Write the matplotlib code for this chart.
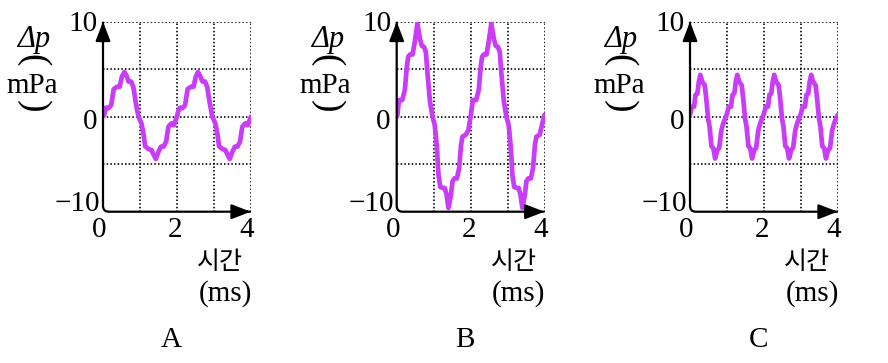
import numpy as np
import matplotlib.pyplot as plt
from matplotlib.path import Path
from matplotlib.patches import PathPatch

# ---------------- data ----------------
# A: 500 Hz tone with ripple, amplitude ~5 mPa
t_a = [0.00, 0.04, 0.08, 0.15, 0.22, 0.29, 0.38, 0.45, 0.51, 0.58, 0.65, 0.69, 0.76, 0.82, 0.89,
       0.96, 1.04, 1.10, 1.14, 1.23, 1.31, 1.37, 1.43, 1.50, 1.57, 1.64, 1.71, 1.77, 1.85, 1.92,
       2.00, 2.04, 2.08, 2.15, 2.22, 2.29, 2.38, 2.45, 2.51, 2.57, 2.64, 2.69, 2.76, 2.82, 2.89,
       2.96, 3.04, 3.10, 3.14, 3.23, 3.31, 3.37, 3.43, 3.50, 3.57, 3.64, 3.71, 3.77, 3.85, 3.92, 4.00]
p_a = [0.0, 0.3, 0.95, 0.9, 1.2, 2.9, 3.15, 3.15, 4.2, 4.7, 4.2, 3.7, 3.7, 3.15, 1.4,
       0.0, -0.7, -1.9, -3.1, -3.4, -3.5, -4.0, -4.45, -3.7, -3.15, -3.15, -2.6, -1.05, -0.7, -0.9,
       0.0, 0.6, 0.95, 0.9, 1.2, 2.9, 3.15, 3.15, 4.2, 4.7, 4.2, 3.7, 3.7, 3.15, 1.4,
       0.0, -0.7, -1.9, -3.1, -3.4, -3.5, -4.0, -4.45, -3.7, -3.15, -3.15, -2.6, -1.05, -0.7, -0.9, 0.0]

# B: same frequency, amplitude ~10 mPa
t_b = [0.00, 0.02, 0.06, 0.15, 0.22, 0.27, 0.31, 0.36, 0.43, 0.49, 0.56, 0.63, 0.68, 0.74, 0.79,
       0.83, 0.90, 0.97, 1.03, 1.09, 1.13, 1.18, 1.24, 1.30, 1.35, 1.40, 1.47, 1.51, 1.56, 1.63,
       1.69, 1.74, 1.78, 1.87, 1.94, 2.00, 2.06, 2.15, 2.22, 2.27, 2.31, 2.36, 2.43, 2.49, 2.56,
       2.63, 2.68, 2.74, 2.79, 2.83, 2.90, 2.97, 3.03, 3.09, 3.13, 3.18, 3.24, 3.30, 3.35, 3.40,
       3.47, 3.51, 3.56, 3.63, 3.69, 3.74, 3.78, 3.87, 3.93, 4.00]
p_b = [0.0, 0.2, 1.75, 1.75, 2.8, 5.1, 6.3, 6.55, 6.55, 7.9, 9.8, 8.2, 7.45, 7.35, 6.8,
       4.7, 1.6, 0.0, -0.9, -3.3, -6.1, -7.4, -7.5, -7.5, -8.2, -9.6, -8.2, -6.8, -6.5, -6.5,
       -5.4, -3.0, -2.1, -1.9, -1.4, 0.0, 1.75, 1.75, 2.8, 5.1, 6.3, 6.55, 6.55, 7.9, 9.8,
       8.2, 7.45, 7.35, 6.8, 4.7, 1.6, 0.0, -0.9, -3.3, -6.1, -7.4, -7.5, -7.5, -8.2, -9.6,
       -8.2, -6.8, -6.5, -6.5, -5.4, -3.0, -2.1, -1.9, -0.9, 0.2]

# C: double frequency, amplitude ~5 mPa
t_c = [0.00, 0.05, 0.11, 0.15, 0.20, 0.24, 0.28, 0.33, 0.40, 0.44, 0.49, 0.53, 0.58, 0.63, 0.68,
       0.74, 0.79, 0.85, 0.90, 0.95,
       1.00, 1.05, 1.11, 1.15, 1.20, 1.24, 1.28, 1.33, 1.40, 1.44, 1.49, 1.53, 1.58, 1.63, 1.68,
       1.74, 1.79, 1.85, 1.90, 1.95,
       2.00, 2.05, 2.11, 2.15, 2.20, 2.24, 2.28, 2.33, 2.40, 2.44, 2.49, 2.53, 2.58, 2.63, 2.68,
       2.74, 2.79, 2.85, 2.90, 2.95,
       3.00, 3.05, 3.11, 3.15, 3.20, 3.24, 3.28, 3.33, 3.40, 3.44, 3.49, 3.53, 3.58, 3.63, 3.68,
       3.74, 3.79, 3.85, 3.90, 3.95, 4.00]
p_c = [0.2, 1.05, 1.05, 2.3, 2.45, 3.7, 4.4, 3.7, 3.3, 1.9, -0.2, -1.05, -3.1, -3.3, -4.4,
       -3.5, -3.3, -1.4, -0.7, -0.2,
       0.3, 1.05, 1.05, 2.3, 2.45, 3.7, 4.4, 3.7, 3.3, 1.9, -0.2, -1.05, -3.1, -3.3, -4.4,
       -3.5, -3.3, -1.4, -0.7, -0.2,
       0.3, 1.05, 1.05, 2.3, 2.45, 3.7, 4.4, 3.7, 3.3, 1.9, -0.2, -1.05, -3.1, -3.3, -4.4,
       -3.5, -3.3, -1.4, -0.7, -0.2,
       0.3, 1.05, 1.05, 2.3, 2.45, 3.7, 4.4, 3.7, 3.3, 1.9, -0.2, -1.05, -3.1, -3.3, -4.4,
       -3.5, -3.3, -1.4, -0.7, -0.2, 0.2]

panel_names = ["A", "B", "C"]
x_grid = [1, 2, 3, 4]
y_grid = [-5, 0, 5, 10]
x_ticks = [0, 2, 4]
y_ticks = [10, 0, -10]

# ---------------- layout (pixels) ----------------
W, H = 888, 363
X0_PX = [103.0, 396.7, 690.0]   # pixel of t = 0 in each panel
PANEL_W = 147.8                 # pixels from t=0 to t=4
Y_TOP, Y_BOT = 21.7, 211.7      # pixels of +10 and -10

CURVE = "#C93CF8"
SERIF = "Liberation Serif"
KR = "Noto Sans CJK KR"


def fx(px):
    return px / W


def fy(py):
    return 1.0 - py / H


def draw_axes_lines(ax):
    # L-shaped axis with a rounded corner at the origin
    rx, ry = 0.16, 0.63
    verts = [(0, 10), (0, -10 + ry), (0, -10), (rx, -10), (4, -10)]
    codes = [Path.MOVETO, Path.LINETO, Path.CURVE3, Path.CURVE3, Path.LINETO]
    ax.add_patch(PathPatch(Path(verts, codes), fill=False, lw=1.6, color="black",
                           clip_on=False, zorder=5))
    style = "-|>,head_length=0.65,head_width=0.25"
    ax.annotate("", xy=(4, -10), xytext=(3.5, -10),
                arrowprops=dict(arrowstyle=style, color="black", lw=1.6,
                                mutation_scale=18, shrinkA=0, shrinkB=0),
                annotation_clip=False, zorder=6)
    ax.annotate("", xy=(0, 10), xytext=(0, 8),
                arrowprops=dict(arrowstyle=style, color="black", lw=1.6,
                                mutation_scale=18, shrinkA=0, shrinkB=0),
                annotation_clip=False, zorder=6)


fig = plt.figure(figsize=(W / 100, H / 100), dpi=100)

series = [(t_a, p_a), (t_b, p_b), (t_c, p_c)]
for i, (t, p) in enumerate(series):
    ox = X0_PX[i]
    ax = fig.add_axes([fx(ox), fy(Y_BOT), PANEL_W / W, (Y_BOT - Y_TOP) / H])
    ax.set_xlim(0, 4)
    ax.set_ylim(-10, 10)
    ax.axis("off")

    dots = (0, (0.9, 1.3))
    ax.vlines(x_grid, -10, 10, colors="black", linestyles=dots, lw=1.2, zorder=1)
    ax.hlines(y_grid, 0, 4, colors="black", linestyles=dots, lw=1.2, zorder=1)

    ax.plot(t, p, color=CURVE, lw=3.4, solid_joinstyle="round",
            solid_capstyle="round", zorder=3)
    draw_axes_lines(ax)

    # y tick labels
    for val, dx, py in zip(y_ticks, [-5, -6, -3], [24, 122, 204]):
        lab = "\u221210" if val < 0 else str(val)
        fig.text(fx(ox + dx), fy(py), lab, ha="right", va="center",
                 fontsize=21, family=SERIF)
    # x tick labels
    for val, dx in zip(x_ticks, [-4, 72, 144]):
        fig.text(fx(ox + dx), fy(230), str(val), ha="center", va="center",
                 fontsize=21, family=SERIF)

    # x axis title
    fig.text(fx(ox + 117), fy(262), "시간", ha="center", va="center",
             fontsize=18, family=KR)
    fig.text(fx(ox + 122), fy(294), "(ms)", ha="center", va="center",
             fontsize=21, family=SERIF)

    # y axis title, written vertically: Δp (mPa)
    fig.text(fx(ox - 69), fy(40), "Δp", ha="center", va="center",
             fontsize=22, family=SERIF, style="italic")
    fig.text(fx(ox - 70), fy(60), "(", ha="center", va="center",
             fontsize=27, family=SERIF, rotation=-90)
    fig.text(fx(ox - 71), fy(86), "mPa", ha="center", va="center",
             fontsize=21, family=SERIF)
    fig.text(fx(ox - 70), fy(106), ")", ha="center", va="center",
             fontsize=27, family=SERIF, rotation=-90)

    # panel letter
    fig.text(fx(ox + 68), fy(340), panel_names[i], ha="center", va="center",
             fontsize=21, family=SERIF)

fig.savefig("out.png", dpi=100)
